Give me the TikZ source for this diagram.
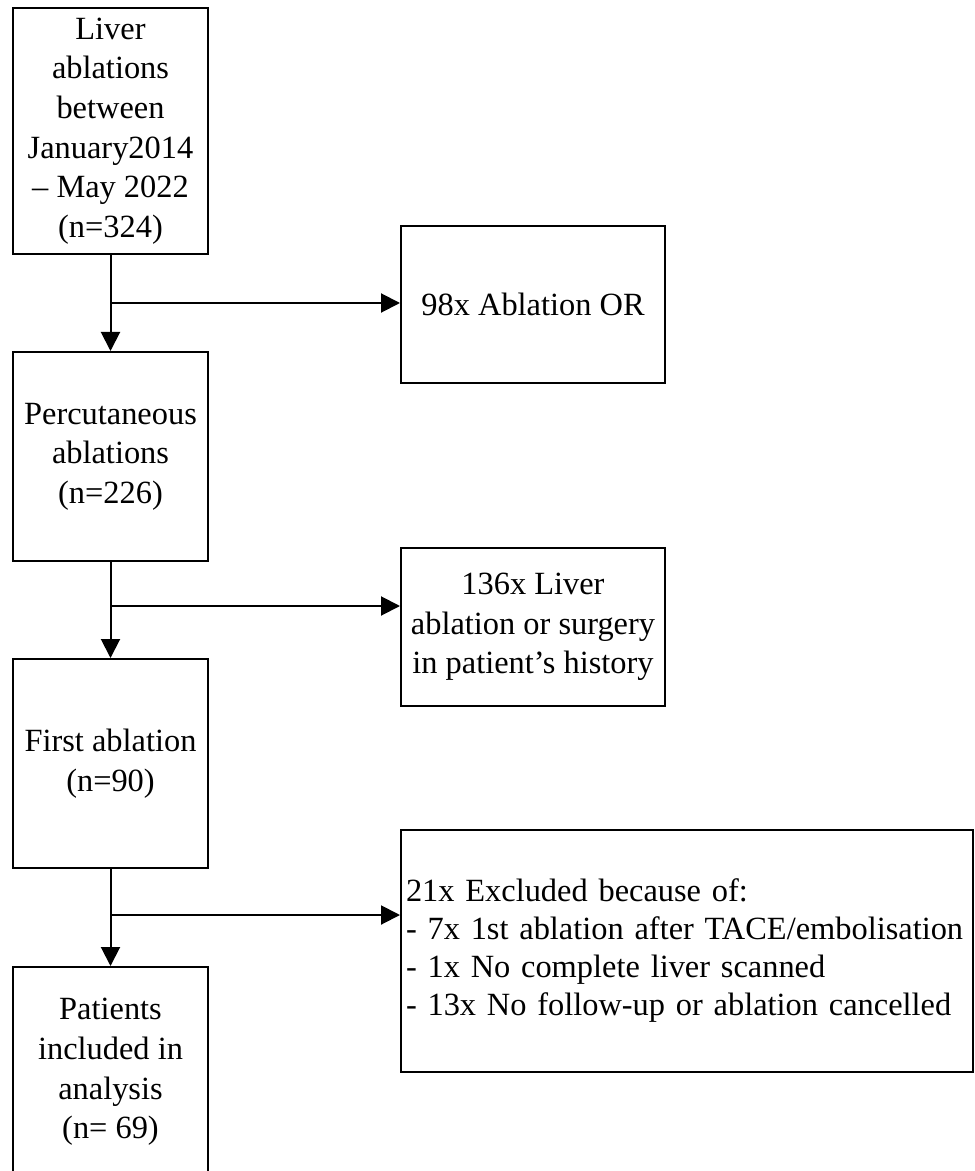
\documentclass[tikz,border=0pt]{standalone}
\usepackage{fontspec}
\setmainfont{Liberation Serif}
\usetikzlibrary{arrows.meta}

\begin{document}
\begin{tikzpicture}[x=0.5pt,y=-0.5pt,>={Triangle[length=9.5pt,width=9.5pt]},line width=1pt,
  font=\fontsize{16.2}{19.8}\selectfont,
  box/.style={draw,line width=1pt,align=center,inner sep=2pt},
  leftbox/.style={box,minimum width=97.5pt},
  sidebox/.style={box,minimum width=132pt,minimum height=78.5pt}]
\useasboundingbox (0,0) rectangle (974,1171);
\node[leftbox,minimum height=123pt] (liver) at (110.5,131) {Liver\\ablations\\between\\January2014\\-- May 2022\\(n=324)};
\node[leftbox,minimum height=104.5pt] (percut) at (110.5,456.5) {Percutaneous\\ablations\\(n=226)};
\node[leftbox,minimum height=104.5pt] (first) at (110.5,763.5) {First ablation\\(n=90)};
\node[leftbox,minimum height=105pt] (incl) at (110.5,1072) {Patients\\included in\\analysis\\(n= 69)};
\node[sidebox] (orabl) at (533,304.5) {98x Ablation OR};
\node[sidebox,minimum height=79pt] (hist) at (533,627) {136x Liver\\ablation or surgery\\in patient’s history};
\node[box,align=left,text width=281pt,inner xsep=2.5pt,minimum height=121pt,font=\fontsize{16.2}{19}\selectfont] (excl) at (687,951)
  {21x Excluded because of:\\- 7x 1st ablation after TACE/embolisation\\- 1x No complete liver scanned\\- 13x No follow-up or ablation cancelled};
\coordinate (b1) at (110.5,303);
\coordinate (b2) at (110.5,606);
\coordinate (b3) at (110.5,915);
\draw[->] (liver) -- (percut);
\draw[->] (percut) -- (first);
\draw[->] (first) -- (incl);
\draw[->] (b1) -- (b1 -| orabl.west);
\draw[->] (b2) -- (b2 -| hist.west);
\draw[->] (b3) -- (b3 -| excl.west);
\end{tikzpicture}
\end{document}
